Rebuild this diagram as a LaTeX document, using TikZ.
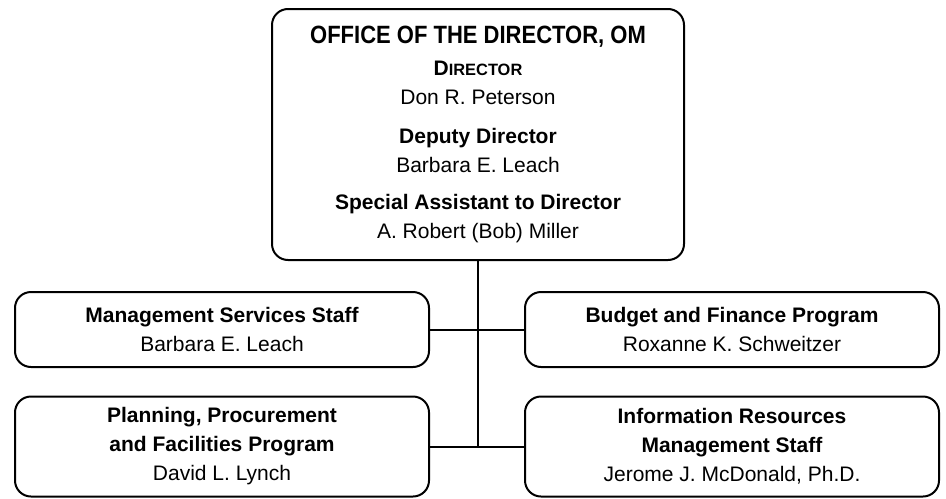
\documentclass[tikz,border=0pt]{standalone}
\usepackage{fontspec}
\setmainfont{Liberation Sans}
\newfontfamily\titlefont[FakeStretch=0.88]{Liberation Sans}
\usetikzlibrary{positioning}

\newcommand{\smallcapsbf}[2]{\textbf{#1{\fontsize{8.2pt}{10pt}\selectfont #2}}}

\begin{document}
\begin{tikzpicture}[on grid,
    unit/.style={draw,line width=1pt,rounded corners=8pt,align=center,
        minimum width=207pt,font=\fontsize{10.5pt}{14.5pt}\selectfont},
    office/.style={unit,minimum width=206pt,minimum height=125.5pt},
    link/.style={line width=1pt}]
    \useasboundingbox (0,0) rectangle (473pt,-249pt);
    \node[office] (om) at (239pt,-67.25pt)
        {{\titlefont\bfseries\fontsize{12.5pt}{14.5pt}\selectfont OFFICE OF THE DIRECTOR, OM}\\[1.5pt]
         \smallcapsbf{D}{IRECTOR}\\
         Don R. Peterson\\[5pt]
         \textbf{Deputy Director}\\
         Barbara E. Leach\\[4pt]
         \textbf{Special Assistant to Director}\\
         A. Robert (Bob) Miller};
    \node[unit,minimum height=37.5pt] [below left=97.5pt and 128pt of om] (mss)
        {\textbf{Management Services Staff}\\ Barbara E. Leach};
    \node[unit,minimum height=37.5pt] [below right=97.5pt and 127pt of om] (bfp)
        {\textbf{Budget and Finance Program}\\ Roxanne K. Schweitzer};
    \node[unit,minimum height=50pt] [below=58.5pt of mss] (ppf)
        {\textbf{Planning, Procurement}\\ \textbf{and Facilities Program}\\ David L. Lynch};
    \node[unit,minimum height=50pt] [below=58.5pt of bfp] (irm)
        {\textbf{Information Resources}\\ \textbf{Management Staff}\\ Jerome J. McDonald, Ph.D.};
    \coordinate (trunk) at (om.south |- ppf.east);
    \draw[link] (om.south) -- (trunk);
    \draw[link] (mss.east) -- (bfp.west);
    \draw[link] (ppf.east) -- (irm.west);
\end{tikzpicture}
\end{document}
